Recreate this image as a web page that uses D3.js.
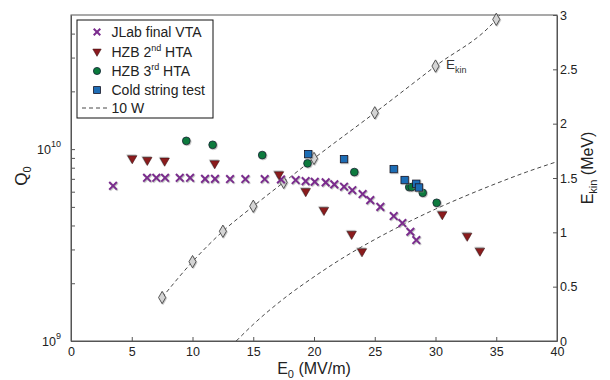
<!DOCTYPE html>
<html>
<head>
<meta charset="utf-8">
<script src="https://cdn.jsdelivr.net/npm/d3@7"></script>
<style>
  body { margin: 0; background: #fff; }
  svg { font-family: "Liberation Sans", Arial, sans-serif; }
  .axis path, .axis line { stroke: #555; }
  .axis text { fill: #222; font-size: 12.5px; }
</style>
</head>
<body>
<div id="chart"></div>
<script>
// JLab final VTA (E0 in MV/m, Q0)
const jlabE = [3.46, 6.26, 7.02, 7.74, 8.95, 9.8, 11.03, 11.85, 13.09, 14.35, 15.94, 17.28, 18.49, 19.31, 20.06, 20.96, 21.67, 22.47, 23.15, 24.0, 24.63, 25.46, 26.56, 27.27, 27.93, 28.42];
const jlabQ = [6.44e9, 7.09e9, 7.09e9, 7.09e9, 7.09e9, 7.09e9, 7.0e9, 7.0e9, 6.98e9, 6.98e9, 6.98e9, 6.95e9, 6.9e9, 6.81e9, 6.76e9, 6.71e9, 6.55e9, 6.37e9, 6.11e9, 5.83e9, 5.42e9, 5.0e9, 4.48e9, 4.12e9, 3.71e9, 3.36e9];

// HZB 2nd HTA
const hta2E = [5.04, 6.28, 7.71, 11.83, 17.12, 19.32, 20.82, 23.1, 23.95, 30.56, 32.61, 33.66];
const hta2Q = [8.95e9, 8.77e9, 8.69e9, 8.43e9, 7.38e9, 6.03e9, 4.81e9, 3.61e9, 2.93e9, 4.57e9, 3.53e9, 2.95e9];

// HZB 3rd HTA
const hta3E = [9.49, 11.66, 15.74, 19.47, 23.32, 27.84, 28.04, 28.95, 30.1];
const hta3Q = [1.104e10, 1.053e10, 9.31e9, 8.43e9, 7.59e9, 6.34e9, 6.34e9, 5.92e9, 5.25e9];

// Cold string test
const csE = [19.53, 22.47, 26.56, 27.46, 28.42, 28.64];
const csQ = [9.42e9, 8.87e9, 7.87e9, 6.9e9, 6.6e9, 6.31e9];

// 10 W line
const wE = [13.6, 15, 17.5, 20, 22.5, 25, 27.5, 30, 32.5, 35, 37.5, 40];
const wQ = [1.0e9, 1.22e9, 1.66e9, 2.16e9, 2.74e9, 3.38e9, 4.09e9, 4.87e9, 5.71e9, 6.62e9, 7.6e9, 8.6e9];

// E_kin (right axis, MeV)
const kinE = [7.5, 10, 12.5, 15, 17.5, 20, 25, 30, 35];
const kinV = [0.40, 0.73, 1.01, 1.24, 1.46, 1.68, 2.10, 2.53, 2.96];
const kinLineE = [7.5, 10, 12.5, 15, 17.5, 20, 25, 30, 35, 35.3];
const kinLineV = [0.40, 0.73, 1.01, 1.24, 1.46, 1.68, 2.10, 2.53, 2.96, 3.0];

const eTicks = [0, 5, 10, 15, 20, 25, 30, 35, 40];
const qTicks = [1e9, 2e9, 3e9, 4e9, 5e9, 6e9, 7e9, 8e9, 9e9, 1e10, 2e10, 3e10, 4e10];
const qLabels = [[1e9, "9"], [1e10, "10"]];
const kinTicks = [0, 0.5, 1, 1.5, 2, 2.5, 3];

const width = 610, height = 380;
const margin = { top: 15, right: 53, bottom: 39, left: 71 };

const svg = d3.select("#chart").append("svg")
    .attr("width", width)
    .attr("height", height);

// faint marker shadow like the original
const defs = svg.append("defs");
defs.append("filter").attr("id", "shadow")
    .attr("x", "-50%").attr("y", "-50%").attr("width", "200%").attr("height", "200%")
    .append("feDropShadow")
    .attr("dx", 0.8).attr("dy", 0.8).attr("stdDeviation", 0.6)
    .attr("flood-color", "#888").attr("flood-opacity", 0.6);

const x = d3.scaleLinear().domain([0, 40]).range([margin.left, width - margin.right]);
const y = d3.scaleLog().domain([1e9, 5e10]).range([height - margin.bottom, margin.top]);
const yR = d3.scaleLinear().domain([0, 3]).range([height - margin.bottom, margin.top]);

const zip = (a, b) => a.map((v, i) => [v, b[i]]);

// frame
svg.append("rect")
    .attr("x", margin.left).attr("y", margin.top)
    .attr("width", width - margin.left - margin.right)
    .attr("height", height - margin.top - margin.bottom)
    .attr("fill", "none").attr("stroke", "#555");

svg.append("g")
    .attr("class", "axis")
    .attr("transform", `translate(0,${height - margin.bottom})`)
    .call(d3.axisBottom(x).tickValues(eTicks).tickSizeInner(-4).tickSizeOuter(0).tickPadding(6));

svg.append("g")
    .attr("class", "axis")
    .attr("transform", `translate(${margin.left},0)`)
    .call(d3.axisLeft(y).tickValues(qTicks).tickSizeInner(-4).tickSizeOuter(0).tickFormat(""));

svg.append("g")
    .attr("class", "axis")
    .attr("transform", `translate(${width - margin.right},0)`)
    .call(d3.axisRight(yR).tickValues(kinTicks).tickSizeInner(-4).tickSizeOuter(0)
        .tickPadding(3).tickFormat(d => String(d)));

// log labels 10^9, 10^10
qLabels.forEach(([v, p]) => {
    const t = svg.append("text")
        .attr("x", margin.left - 10)
        .attr("y", y(v) + 5)
        .attr("text-anchor", "end")
        .style("font-size", "12.5px")
        .attr("fill", "#222");
    t.append("tspan").text("10");
    t.append("tspan").attr("dy", -7).style("font-size", "9px").text(p);
});

// axis titles
const xt = svg.append("text")
    .attr("x", x(20)).attr("y", 374)
    .attr("text-anchor", "middle")
    .style("font-size", "16px").attr("fill", "#222");
xt.append("tspan").text("E");
xt.append("tspan").attr("dy", 4).style("font-size", "11px").text("0");
xt.append("tspan").attr("dy", -4).text(" (MV/m)");

const yt = svg.append("text")
    .attr("transform", `translate(27,${176}) rotate(-90)`)
    .attr("text-anchor", "middle")
    .style("font-size", "17px").attr("fill", "#222");
yt.append("tspan").text("Q");
yt.append("tspan").attr("dy", 4).style("font-size", "11px").text("0");

const rt = svg.append("text")
    .attr("transform", `translate(593,${168}) rotate(-90)`)
    .attr("text-anchor", "middle")
    .style("font-size", "16px").attr("fill", "#222");
rt.append("tspan").text("E");
rt.append("tspan").attr("dy", 4).style("font-size", "11px").text("kin");
rt.append("tspan").attr("dy", -4).text(" (MeV)");

// lines
const plot = svg.append("g");
const lineQ = d3.line().x(d => x(d[0])).y(d => y(d[1])).curve(d3.curveMonotoneX);
const lineK = d3.line().x(d => x(d[0])).y(d => yR(d[1])).curve(d3.curveMonotoneX);

plot.append("path")
    .datum(zip(wE, wQ))
    .attr("d", lineQ)
    .attr("fill", "none").attr("stroke", "#333")
    .attr("stroke-width", 0.9).attr("stroke-dasharray", "4,3");

plot.append("path")
    .datum(zip(kinLineE, kinLineV))
    .attr("d", lineK)
    .attr("fill", "none").attr("stroke", "#333")
    .attr("stroke-width", 0.9).attr("stroke-dasharray", "4,3");

const sym = (type, size) => d3.symbol().type(type).size(size)();

plot.selectAll(".kin")
    .data(zip(kinE, kinV))
    .enter().append("path")
    .attr("d", sym(d3.symbolDiamond, 44))
    .attr("transform", d => `translate(${x(d[0])},${yR(d[1])})`)
    .attr("fill", "#d4d4d4").attr("stroke", "#333").attr("stroke-width", 0.8)
    .attr("filter", "url(#shadow)");

plot.selectAll(".jlab")
    .data(zip(jlabE, jlabQ))
    .enter().append("path")
    .attr("d", sym(d3.symbolTimes, 40))
    .attr("transform", d => `translate(${x(d[0])},${y(d[1])})`)
    .attr("fill", "none").attr("stroke", "#7b2c8e").attr("stroke-width", 2)
    .attr("filter", "url(#shadow)");

plot.selectAll(".hta2")
    .data(zip(hta2E, hta2Q))
    .enter().append("path")
    .attr("d", sym(d3.symbolTriangle, 38))
    .attr("transform", d => `translate(${x(d[0])},${y(d[1])}) rotate(180)`)
    .attr("fill", "#8b1a1f").attr("stroke", "#3a0a0a").attr("stroke-width", 0.6)
    .attr("filter", "url(#shadow)");

plot.selectAll(".hta3")
    .data(zip(hta3E, hta3Q))
    .enter().append("circle")
    .attr("cx", d => x(d[0])).attr("cy", d => y(d[1]))
    .attr("r", 3.9)
    .attr("fill", "#0a7a3c").attr("stroke", "#123").attr("stroke-width", 0.8)
    .attr("filter", "url(#shadow)");

plot.selectAll(".cs")
    .data(zip(csE, csQ))
    .enter().append("rect")
    .attr("x", d => x(d[0]) - 3.7).attr("y", d => y(d[1]) - 3.7)
    .attr("width", 7.4).attr("height", 7.4)
    .attr("fill", "#1f6db5").attr("stroke", "#112").attr("stroke-width", 0.8)
    .attr("filter", "url(#shadow)");

// E_kin annotation
const ek = svg.append("text").attr("x", 446).attr("y", 69)
    .style("font-size", "13.5px").attr("fill", "#333");
ek.append("tspan").text("E");
ek.append("tspan").attr("dy", 4).style("font-size", "9px").text("kin");

// legend
const lg = svg.append("g");
lg.append("rect")
    .attr("x", 77).attr("y", 20).attr("width", 136).attr("height", 98)
    .attr("fill", "#fff").attr("stroke", "#111").attr("stroke-width", 1);

const rows = [32, 51.5, 71, 90, 108];
const mx = 97, tx = 111.5;
lg.append("path").attr("d", sym(d3.symbolTimes, 30))
    .attr("transform", `translate(${mx},${rows[0]})`)
    .attr("fill", "none").attr("stroke", "#7b2c8e").attr("stroke-width", 2);
lg.append("path").attr("d", sym(d3.symbolTriangle, 30))
    .attr("transform", `translate(${mx},${rows[1]}) rotate(180)`)
    .attr("fill", "#8b1a1f").attr("stroke", "#3a0a0a").attr("stroke-width", 0.6);
lg.append("circle").attr("cx", mx).attr("cy", rows[2]).attr("r", 3.6)
    .attr("fill", "#0a7a3c").attr("stroke", "#123").attr("stroke-width", 0.8);
lg.append("rect").attr("x", mx - 3.4).attr("y", rows[3] - 3.4).attr("width", 6.8).attr("height", 6.8)
    .attr("fill", "#1f6db5").attr("stroke", "#112").attr("stroke-width", 0.8);
lg.append("line").attr("x1", 82).attr("x2", 110).attr("y1", rows[4]).attr("y2", rows[4])
    .attr("stroke", "#333").attr("stroke-width", 0.9).attr("stroke-dasharray", "4,3");

const legText = (i) => lg.append("text").attr("x", tx).attr("y", rows[i] + 5)
    .style("font-size", "14px").attr("fill", "#222");
legText(0).text("JLab final VTA");
let t1 = legText(1);
t1.append("tspan").text("HZB 2");
t1.append("tspan").attr("dy", -6).style("font-size", "9px").text("nd");
t1.append("tspan").attr("dy", 6).text(" HTA");
let t2 = legText(2);
t2.append("tspan").text("HZB 3");
t2.append("tspan").attr("dy", -6).style("font-size", "9px").text("rd");
t2.append("tspan").attr("dy", 6).text(" HTA");
legText(3).text("Cold string test");
legText(4).text("10 W");
</script>
</body>
</html>
